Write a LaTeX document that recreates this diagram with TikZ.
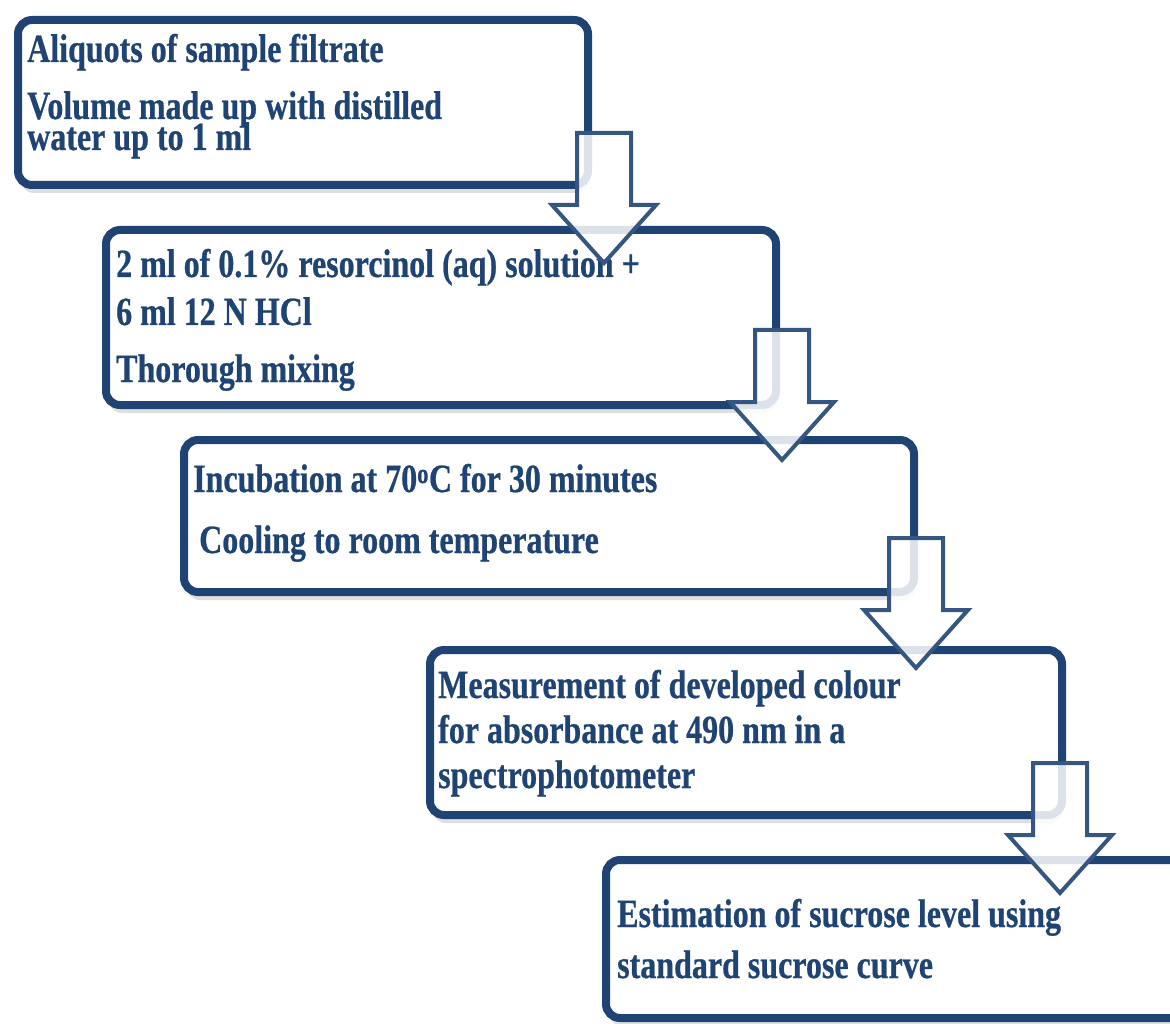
\documentclass[tikz,border=0pt]{standalone}
\usepackage{fontspec}
\newfontfamily\stepfont{Liberation Serif}[FakeStretch=0.8, BoldFeatures={FakeBold=0.6}]
\usetikzlibrary{shadows}
\definecolor{stepblue}{HTML}{1F4373}

\begin{document}
\begin{tikzpicture}[x=1pt, y=-1pt,
  stepbox/.style={draw=stepblue, line width=8pt, rounded corners=14pt, fill=white,
    anchor=north west, inner sep=0pt,
    drop shadow={shadow xshift=2pt, shadow yshift=-8pt, opacity=0.25}},
  steptext/.style={anchor=base west, inner sep=0pt, text=stepblue,
    font=\stepfont\bfseries\fontsize{40}{44}\selectfont},
  downarrow/.style={draw=stepblue!90, line width=4pt, fill=white, fill opacity=0.85,
    line join=miter}]
  % Page
  \useasboundingbox (0,0) rectangle (1170,1024);
  \clip (0,0) rectangle (1170,1024);

  % Boxes
  \node[stepbox, minimum width=570pt, minimum height=165pt] (s1) at (14,16) {};
  \node[stepbox, minimum width=670pt, minimum height=175pt] (s2) at (102,226) {};
  \node[stepbox, minimum width=730pt, minimum height=152pt] (s3) at (180,436) {};
  \node[stepbox, minimum width=632pt, minimum height=165pt] (s4) at (426,646) {};
  \node[stepbox, minimum width=580pt, minimum height=158pt] (s5) at (602,856) {};

  % Texts
  \node[steptext] (t1a) at (27,62) {Aliquots of sample filtrate};
  \node[steptext] (t1b) at (27,119) {Volume made up with distilled};
  \node[steptext] (t1c) at (27,150) {water up to 1 ml};

  \node[steptext] (t2a) at (116,277) {2 ml of 0.1\% resorcinol (aq) solution +};
  \node[steptext] (t2b) at (116,325) {6 ml 12 N HCl};
  \node[steptext] (t2c) at (116,382) {Thorough mixing};

  \node[steptext] (t3a) at (193,492) {Incubation at 70\textsuperscript{o}C for 30 minutes};
  \node[steptext] (t3b) at (199,553) {Cooling to room temperature};

  \node[steptext] (t4a) at (438,698) {Measurement of developed colour};
  \node[steptext] (t4b) at (438,743) {for absorbance at 490 nm in a};
  \node[steptext] (t4c) at (438,788) {spectrophotometer};

  \node[steptext] (t5a) at (617,927) {Estimation of sucrose level using};
  \node[steptext] (t5b) at (617,978) {standard sucrose curve};

  % Block arrows between steps
  \coordinate (a1) at (604,133);
  \coordinate (a2) at (782,330);
  \coordinate (a3) at (916,538);
  \coordinate (a4) at (1060,763);
  \foreach \p in {a1,a2,a3,a4}
    \draw[downarrow] (\p) ++(-27,0) -- ++(54,0) -- ++(0,72) -- ++(25,0)
      -- ++(-52,58) -- ++(-52,-58) -- ++(25,0) -- cycle;
\end{tikzpicture}
\end{document}
